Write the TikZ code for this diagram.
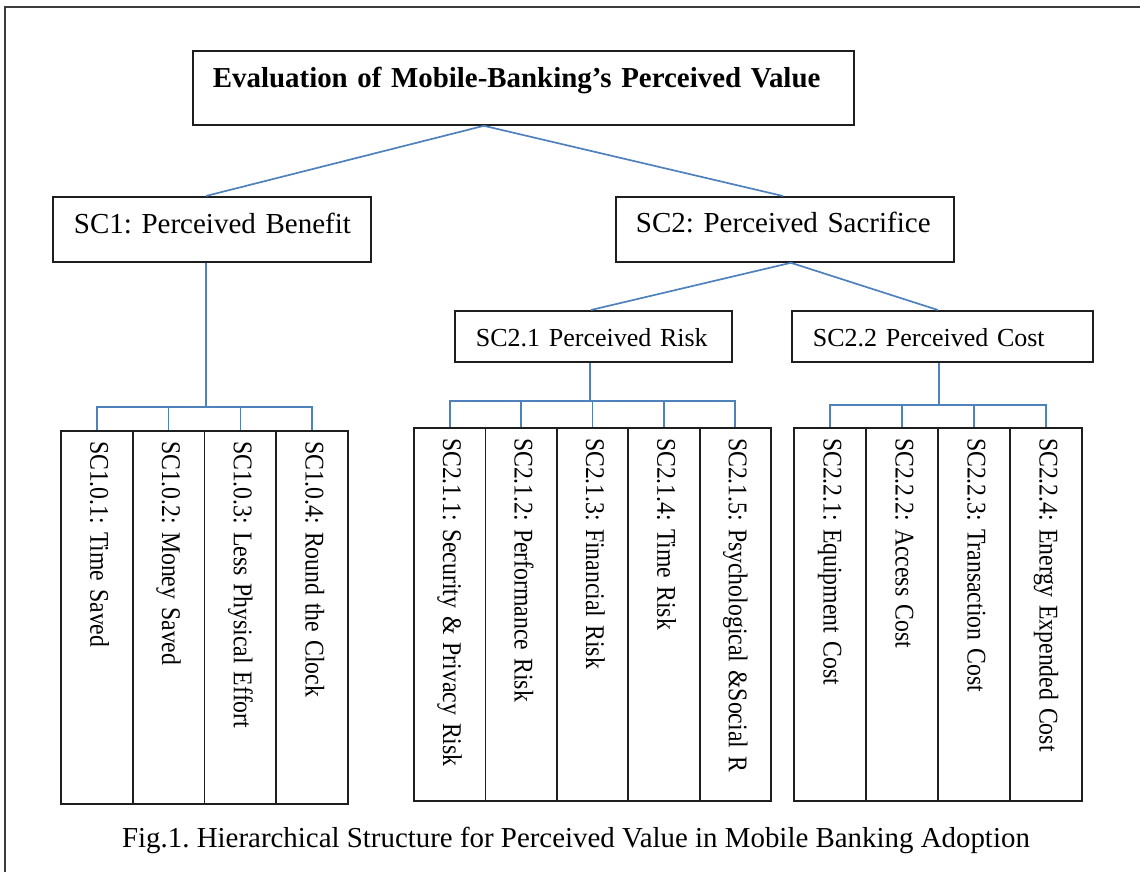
\documentclass[tikz,border=0pt]{standalone}
\usepackage{fontspec}
\usepackage{graphicx}
\setmainfont{Liberation Serif}
\frenchspacing
\usetikzlibrary{calc}
\definecolor{linkblue}{RGB}{79,129,189}
\definecolor{boxline}{RGB}{30,30,30}
\definecolor{framec}{RGB}{60,60,60}
\tikzset{
  box/.style={draw=boxline, line width=1.8pt, anchor=north west, inner ysep=0pt,
    inner xsep=21pt, align=left, font=\fontsize{29}{34}\selectfont},
  leaf/.style={draw=boxline, line width=1.8pt, rotate=-90, minimum width=373pt,
    minimum height=#1, text width=353pt, inner xsep=10pt, inner ysep=0pt,
    align=left, text height=18pt, text depth=5pt, font=\fontsize{27}{31}\selectfont},
  link/.style={draw=linkblue, line width=1.7pt},
  frame/.style={draw=framec, line width=2pt}
}
\newcommand{\lt}[1]{\scalebox{0.88}[1]{#1}}
\begin{document}
\begin{tikzpicture}[x=1pt,y=-1pt]
\useasboundingbox (0,0) rectangle (1140,872);
\draw[frame] (5,872) -- (5,7) -- (1140,7);

% top
\node[box, inner xsep=20pt, text width=621pt, text height=37pt, text depth=37pt,
      font=\fontsize{28.9}{34}\selectfont\bfseries] (top) at (192,50)
  {\mbox{Evaluation of Mobile-Banking’s Perceived Value}};

% level 2
\node[box, text width=276pt, text height=37pt, text depth=28pt] (sc1) at (52,196)
  {\mbox{SC1: Perceived Benefit}};
\node[box, inner xsep=20pt, text width=298pt, text height=36pt, text depth=29pt] (sc2) at (615,196)
  {\mbox{SC2: Perceived Sacrifice}};

% level 3
\node[box, text width=235pt, text height=36pt, text depth=15pt,
      font=\fontsize{26}{30}\selectfont] (sc21) at (454,310)
  {\mbox{SC2.1 Perceived Risk}};
\node[box, text width=259pt, text height=36pt, text depth=15pt,
      font=\fontsize{26}{30}\selectfont] (sc22) at (791,310)
  {\mbox{SC2.2 Perceived Cost}};

% leaves SC1
\node[leaf=71.75pt] (a1) at (96.875,617.5) {\lt{SC1.0.1: Time Saved}};
\node[leaf=71.75pt] (a2) at (168.625,617.5) {\lt{SC1.0.2: Money Saved}};
\node[leaf=71.75pt] (a3) at (240.375,617.5) {\lt{SC1.0.3: Less Physical Effort}};
\node[leaf=71.75pt] (a4) at (312.125,617.5) {\lt{SC1.0.4: Round the Clock}};

% leaves SC2.1
\node[leaf=71.4pt] (b1) at (449.7,614.5) {\lt{SC2.1.1: Security \& Privacy Risk}};
\node[leaf=71.4pt] (b2) at (521.1,614.5) {\lt{SC2.1.2: Performance Risk}};
\node[leaf=71.4pt] (b3) at (592.5,614.5) {\lt{SC2.1.3: Financial Risk}};
\node[leaf=71.4pt] (b4) at (663.9,614.5) {\lt{SC2.1.4: Time Risk}};
\node[leaf=71.4pt] (b5) at (735.3,614.5) {\lt{SC2.1.5: Psychological \&Social R}};

% leaves SC2.2
\node[leaf=72pt] (c1) at (830,614.5) {\lt{SC2.2.1: Equipment Cost}};
\node[leaf=72pt] (c2) at (902,614.5) {\lt{SC2.2.2: Access Cost}};
\node[leaf=72pt] (c3) at (974,614.5) {\lt{SC2.2.3: Transaction Cost}};
\node[leaf=72pt] (c4) at (1046,614.5) {\lt{SC2.2.4: Energy Expended Cost}};

% caption
\node[anchor=base, inner sep=0pt, font=\fontsize{28.9}{34}\selectfont] (fig) at (576,847)
  {Fig.1. Hierarchical Structure for Perceived Value in Mobile Banking Adoption};

% connectors
\draw[link] ([xshift=-6pt]sc1.north) -- ([xshift=-39.5pt]top.south) -- ([xshift=-2pt]sc2.north);
\draw[link] ([xshift=-2.5pt]sc21.north) -- ([xshift=6pt]sc2.south) -- ([xshift=-4.5pt]sc22.north);
\foreach \c in {a1,a2,a3,a4}
  \draw[link] ([xshift=-6pt]sc1.south) -- ++(0,144) -| (\c.west);
\foreach \c in {b1,b2,b3,b4,b5}
  \draw[link] ([xshift=-3.5pt]sc21.south) -- ++(0,38) -| (\c.west);
\foreach \c in {c1,c2,c3,c4}
  \draw[link] ([xshift=-3.5pt]sc22.south) -- ++(0,42) -| (\c.west);
\end{tikzpicture}
\end{document}
